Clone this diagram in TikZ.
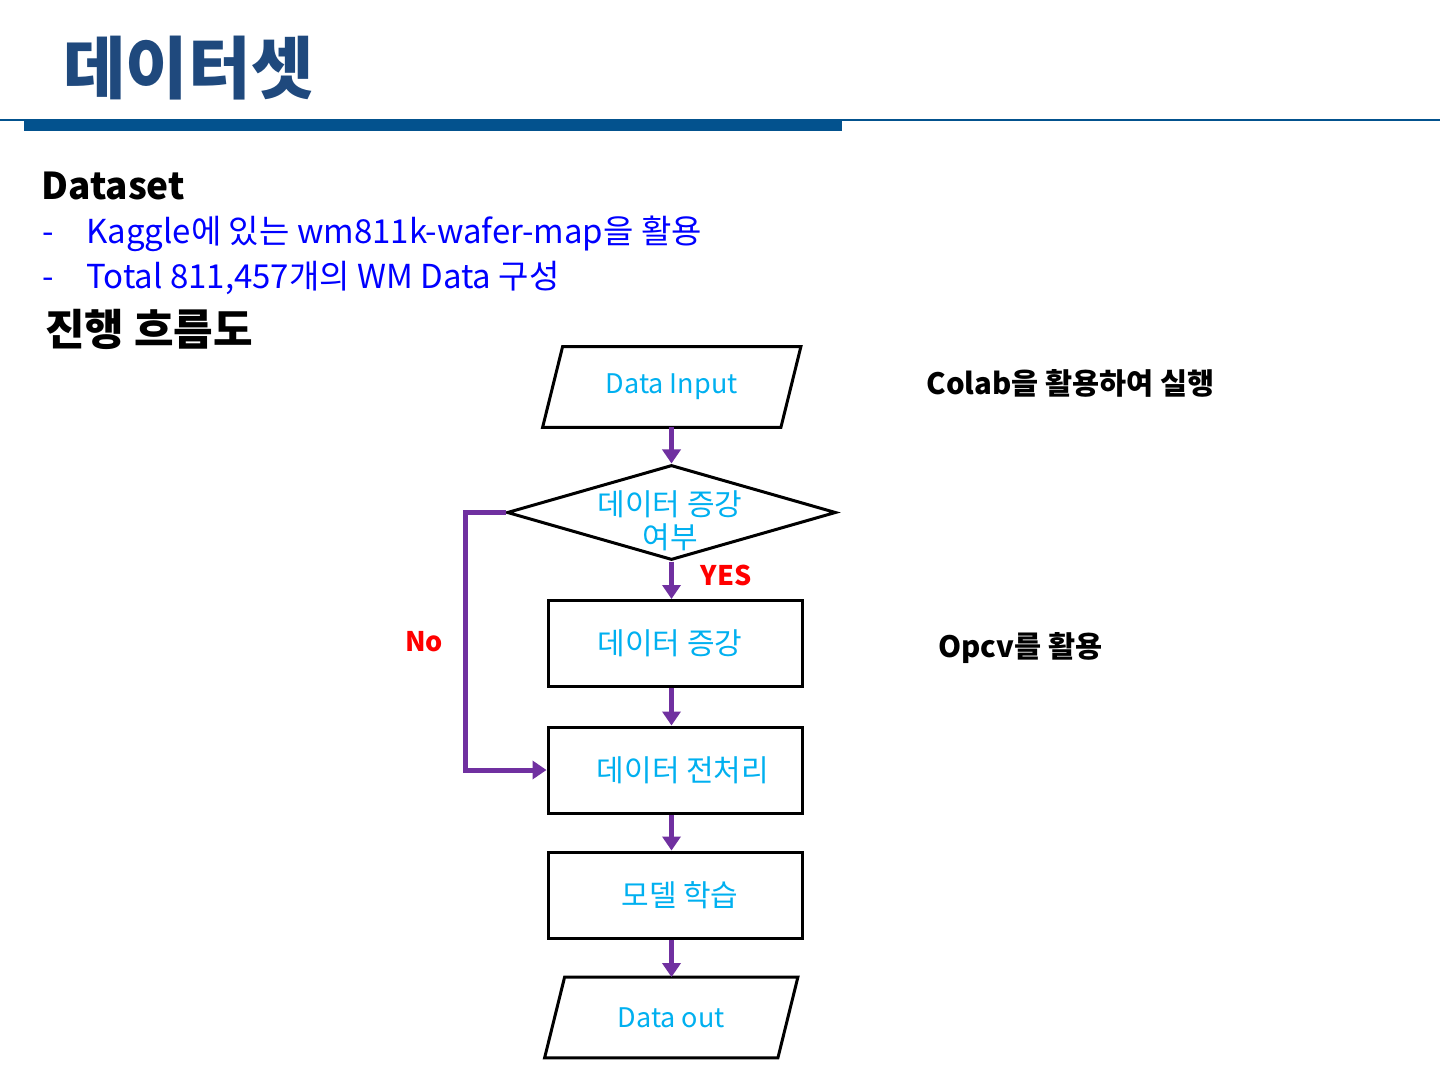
\documentclass[tikz,border=0pt]{standalone}
\usepackage{fontspec}
\setmainfont{Noto Sans CJK KR}
\usetikzlibrary{arrows.meta,shapes.geometric,calc}
\definecolor{titleblue}{RGB}{31,73,125}
\definecolor{barblue}{RGB}{3,82,142}
\definecolor{cyantext}{RGB}{0,176,240}
\definecolor{purp}{RGB}{112,48,160}
\definecolor{bluetext}{RGB}{0,0,255}
\begin{document}
\begin{tikzpicture}[x=0.5pt,y=-0.5pt,
  fc/.style={font=\fontsize{13.5}{16}\selectfont, text=cyantext, inner sep=0pt},
  fk/.style={font=\fontsize{15}{17}\selectfont, text=cyantext, inner sep=0pt},
  box/.style={fk, draw=black, line width=1.5pt, minimum width=127pt, minimum height=43pt},
  para/.style={fc, minimum height=40pt},
  outline/.style={draw=black, line width=1.5pt, line join=miter},
  arr/.style={draw=purp, line width=2.5pt, -{Triangle[width=9pt,length=7pt]}},
  side/.style={font=\fontsize{14.7}{17}\selectfont\bfseries, anchor=west, inner sep=0pt},
  flag/.style={font=\fontsize{13.5}{16}\selectfont\bfseries, text=red, inner sep=0pt},
  bullet/.style={font=\fontsize{16.5}{20}\selectfont, text=bluetext, anchor=base west, inner sep=0pt}
]
\useasboundingbox (0,0) rectangle (1440,1080);
\fill[white] (0,0) rectangle (1440,1080);

% header
\node[anchor=west, inner sep=0pt, text=titleblue, font=\fontsize{34}{38}\selectfont\bfseries] (title) at (63,68) {데이터셋};
\fill[barblue] (0,119) rectangle (1440,121);
\fill[barblue] (24,120) rectangle (842,131);

% body text
\node[anchor=base west, inner sep=0pt, font=\fontsize{18.5}{22}\selectfont\bfseries] (ds) at (41,200) {Dataset};
\node[bullet] (d1) at (42,244) {-};
\node[bullet] (t1) at (86,244) {Kaggle에 있는 wm811k-wafer-map을 활용};
\node[bullet] (d2) at (42,289) {-};
\node[bullet] (t2) at (86,289) {Total 811,457개의 WM Data 구성};
\node[anchor=west, inner sep=0pt, font=\fontsize{21.5}{24}\selectfont\bfseries] (flow) at (45,329) {진행 흐름도};

% flowchart nodes
\node[para, minimum width=118.75pt] (in) at (671.75,387) {Data Input};
\draw[outline] ($(in.north west)+(10,0)$) -- ($(in.north east)+(10,0)$) -- ($(in.south east)+(-10,0)$) -- ($(in.south west)+(-10,0)$) -- cycle;

\node[diamond, outline, minimum width=164.5pt, minimum height=47.5pt, inner sep=0pt] (dia) at (671.5,512.5) {};
\node[fk, align=center, font=\fontsize{15}{16.5}\selectfont] (diat) at (670,521) {데이터 증강\\여부};

\node[box] (b1) at (675,643.5) {\hspace*{-5pt}데이터 증강};
\node[box] (b2) at (675,770) {\hspace*{8pt}데이터 전처리};
\node[box] (b3) at (675,895) {\hspace*{5pt}모델 학습};

\node[para, minimum width=116.25pt] (out) at (671.25,1017.5) {Data out};
\draw[outline] ($(out.north west)+(10,0)$) -- ($(out.north east)+(10,0)$) -- ($(out.south east)+(-10,0)$) -- ($(out.south west)+(-10,0)$) -- cycle;

% connectors
\draw[arr] (in.south -| dia.north) -- (dia.north);
\draw[arr] (dia.south) -- (b1.north -| dia.south);
\draw[arr] (b1.south -| dia.south) -- (b2.north -| dia.south);
\draw[arr] (b2.south -| dia.south) -- (b3.north -| dia.south);
\draw[arr] (b3.south -| dia.south) -- (out.north -| dia.south);
\draw[arr] (dia.west) -- ++(-40,0) |- (b2.west);

\node[flag] (yes) at (726,575) {YES};
\node[flag] (no) at (424,642) {No};

% side notes
\node[side] (n1) at (926,383) {Colab을 활용하여 실행};
\node[side] (n2) at (938,648) {Opcv를 활용};
\end{tikzpicture}
\end{document}
